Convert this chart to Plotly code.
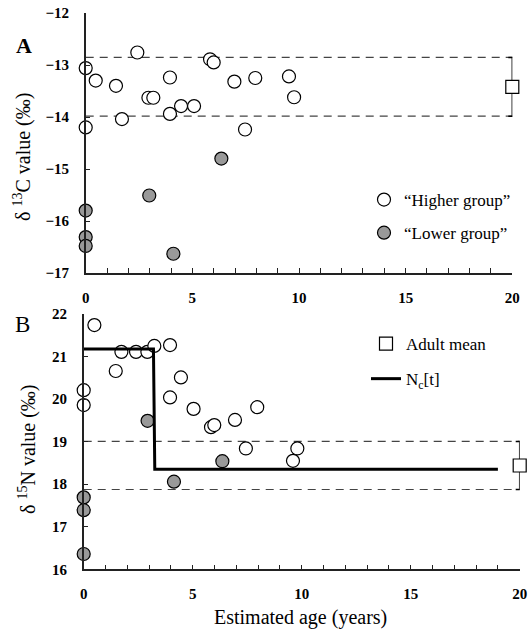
import plotly.graph_objects as go

W, H = 528, 630

# ---- Panel A: delta 13C ----
a_high_age = [0, 0, 0.47, 1.42, 1.70, 2.42, 2.94, 3.17, 3.95, 3.95, 4.47, 5.08, 5.83, 6.0, 6.97, 7.47, 7.95, 9.53, 9.77]
a_high_val = [-13.06, -14.20, -13.30, -13.40, -14.04, -12.76, -13.63, -13.63, -13.24, -13.94, -13.79, -13.79, -12.89, -12.95, -13.32, -14.24, -13.25, -13.22, -13.62]
a_low_age = [0, 0, 0, 2.98, 4.11, 6.36]
a_low_val = [-15.80, -16.31, -16.48, -15.51, -16.63, -14.80]
a_adult_mean = -13.42
a_adult_sd = 0.565

# ---- Panel B: delta 15N ----
b_high_age = [0.49, 0, 0, 1.47, 1.73, 2.40, 2.92, 3.24, 3.96, 3.96, 4.46, 5.04, 5.84, 5.99, 6.94, 7.44, 7.96, 9.80, 9.60]
b_high_val = [21.74, 20.21, 19.86, 20.66, 21.11, 21.11, 21.11, 21.25, 21.27, 20.04, 20.51, 19.77, 19.34, 19.39, 19.51, 18.84, 19.81, 18.84, 18.55]
b_low_age = [0, 0, 0, 2.93, 4.14, 6.36]
b_low_val = [17.69, 17.39, 16.36, 19.49, 18.06, 18.54]
b_adult_mean = 18.44
b_adult_sd = 0.565
nc_age = [0, 3.2, 3.26, 19]
nc_val = [21.18, 21.18, 18.35, 18.35]

adult_age = 20
line_end = 20.2

FONT = "Liberation Serif"
GRAY = "#999999"

fig = go.Figure()

def add_panel(xa, ya, hi_x, hi_y, lo_x, lo_y, mean, sd, show_points_legend, show_adult_legend):
    # dashed reference lines
    for v in (mean + sd, mean - sd):
        fig.add_trace(go.Scatter(x=[0, line_end], y=[v, v], mode="lines", xaxis=xa, yaxis=ya,
                                 line=dict(color="#444444", width=1.2, dash="8px,6px"),
                                 showlegend=False, hoverinfo="skip"))
    fig.add_trace(go.Scatter(x=hi_x, y=hi_y, mode="markers", xaxis=xa, yaxis=ya,
                             name="\u201cHigher group\u201d", legend="legend", legendrank=1,
                             marker=dict(symbol="circle", size=13, color="white",
                                         line=dict(color="black", width=1.2)),
                             cliponaxis=False, showlegend=show_points_legend,
                             legendgroup="g1"))
    fig.add_trace(go.Scatter(x=lo_x, y=lo_y, mode="markers", xaxis=xa, yaxis=ya,
                             name="\u201cLower group\u201d", legend="legend", legendrank=2,
                             marker=dict(symbol="circle", size=13, color=GRAY,
                                         line=dict(color="black", width=1.2)),
                             cliponaxis=False, showlegend=show_points_legend,
                             legendgroup="g2"))
    fig.add_trace(go.Scatter(x=[adult_age], y=[mean], mode="markers", xaxis=xa, yaxis=ya,
                             name="Adult mean", legend="legend2", legendrank=1,
                             error_y=dict(type="data", array=[sd], visible=True,
                                          color="black", thickness=1.5, width=4),
                             marker=dict(symbol="square", size=13, color="white",
                                         line=dict(color="black", width=1.2)),
                             cliponaxis=False, showlegend=show_adult_legend,
                             legendgroup="g3"))

add_panel("x", "y", a_high_age, a_high_val, a_low_age, a_low_val, a_adult_mean, a_adult_sd, True, False)
add_panel("x2", "y2", b_high_age, b_high_val, b_low_age, b_low_val, b_adult_mean, b_adult_sd, False, True)
fig.add_trace(go.Scatter(x=nc_age, y=nc_val, mode="lines", xaxis="x2", yaxis="y2",
                         name="N<sub>c</sub>[t]", legend="legend2", legendrank=2,
                         line=dict(color="black", width=3), showlegend=True, legendgroup="g4"))

def px_x(p):
    return p / W

def px_y(p):
    return 1 - p / H

axis_common = dict(showline=True, linecolor="#222222", linewidth=1.5, showgrid=False, zeroline=False,
                   ticks="inside", ticklen=5, tickcolor="#222222", tickwidth=1.2, automargin=False,
                   ticklabeloverflow="allow",
                   tickfont=dict(family=FONT, size=15, color="black", weight="bold"))

xa_common = dict(axis_common, range=[0, 20], tickmode="array", tickvals=[0, 5, 10, 15, 20],
                 ticktext=["0", "5", "10", "15", "20"], ticklabelstandoff=10,
                 minor=dict(dtick=1, ticks="inside", ticklen=5, tickcolor="#222222", tickwidth=1.2, showgrid=False))

def ann(text, x, y, size, angle=0):
    return dict(text=text, x=px_x(x), y=px_y(y), xref="paper", yref="paper",
                xanchor="center", yanchor="middle", showarrow=False, textangle=angle,
                font=dict(family=FONT, size=size, color="black"))

fig.update_layout(
    width=W, height=H, autosize=False,
    margin=dict(l=0, r=0, t=0, b=0, autoexpand=False),
    paper_bgcolor="white", plot_bgcolor="white",
    font=dict(family=FONT, size=17, color="black"),
    xaxis=dict(xa_common, domain=[px_x(85.7), px_x(512.3)], anchor="y"),
    yaxis=dict(axis_common, domain=[px_y(273), px_y(13)], anchor="x", range=[-17, -12],
               dtick=1, ticklabelstandoff=12),
    xaxis2=dict(xa_common, domain=[px_x(83.7), px_x(519.7)], anchor="y2"),
    yaxis2=dict(axis_common, domain=[px_y(569.3), px_y(314)], anchor="x2", range=[16, 22],
                dtick=1, ticklabelstandoff=12),
    legend=dict(x=px_x(364), y=px_y(182), xanchor="left", yanchor="top",
                font=dict(family=FONT, size=17), bgcolor="rgba(0,0,0,0)",
                tracegroupgap=8, traceorder="grouped", itemwidth=30),
    legend2=dict(x=px_x(366), y=px_y(326), xanchor="left", yanchor="top",
                 font=dict(family=FONT, size=17), bgcolor="rgba(0,0,0,0)",
                 tracegroupgap=10, traceorder="grouped", itemwidth=30),
    annotations=[
        ann("<b>A</b>", 23.5, 45.5, 22),
        ann("B", 22.5, 324.5, 23),
        ann("\u03b4 <sup>13</sup>C value (\u2030)", 22, 157, 20, -90),
        ann("\u03b4 <sup>15</sup>N value (\u2030)", 27, 449, 20, -90),
        ann("Estimated age (years)", 300, 617, 20),
    ],
)

fig.write_html("out.html", config={"displayModeBar": False},
               post_script="document.body.style.margin='0';document.body.style.overflow='hidden';")
